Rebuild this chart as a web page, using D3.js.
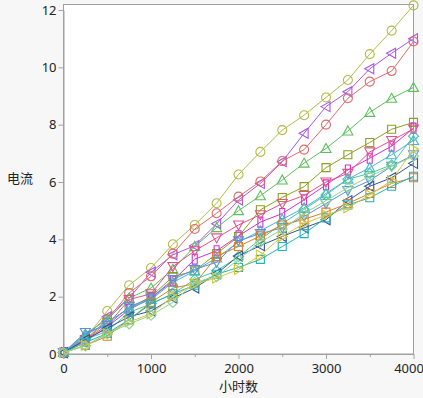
<!DOCTYPE html>
<html><head><meta charset="utf-8">
<script src="https://cdn.jsdelivr.net/npm/d3@7"></script>
<style>
body{margin:0;background:#f7f7f7;}
svg{display:block;font-family:"Noto Sans CJK SC","Open Sans",sans-serif;}
</style></head><body>
<svg id="c" width="423" height="398"></svg>
<script>
const hours = [0,250,500,750,1000,1250,1500,1750,2000,2250,2500,2750,3000,3250,3500,3750,4000];
const xTicks = [0,1000,2000,3000,4000];
const xMinorTicks = [500,1500,2500,3500];
const yTicks = [0,2,4,6,8,10,12];
const xTitle = "小时数";
const yTitle = "电流";

const seriesNames = ["A","B","C","D","E","F","G","H","I","J","K","L","M","N","O"];
const seriesColors = ["#b3ba48","#a855e8","#e06a6a","#5bbf5b","#8e9e1e","#cc33cc","#e8508a","#45b5cf","#5a8ee0","#4cc4a8","#2f5591","#d8802a","#20b3b8","#d6c33e","#8ed48e"];
const seriesMarkers = ["circle","triLeft","circle","triUp","square","rect","triDown","triUp","triDown","diamond","triLeft","square","square","triRight","diamond"];
const sA = [0.05,0.55,1.5,2.4,3.0,3.83,4.5,5.26,6.26,7.05,7.81,8.33,8.95,9.56,10.46,11.28,12.16];
const sB = [0.05,0.6,1.3,1.95,2.85,3.46,3.78,4.54,5.37,5.95,6.71,7.7,8.63,9.15,9.95,10.49,11.0];
const sC = [0.05,0.5,1.2,2.13,2.71,3.5,4.36,4.91,5.49,6.02,6.73,7.13,8.0,8.92,9.5,9.87,10.9];
const sD = [0.05,0.7,1.2,1.95,2.3,2.96,3.75,4.41,5.0,5.52,6.07,6.66,7.17,7.78,8.43,8.92,9.3];
const sE = [0.05,0.5,1.1,1.6,2.0,2.7,2.9,3.5,4.1,5.03,5.46,5.84,6.5,6.95,7.38,7.84,8.08];
const sF = [0.05,0.45,0.95,1.55,1.95,2.55,3.31,3.6,4.12,4.6,4.9,5.38,5.9,6.42,6.83,7.25,7.88];
const sG = [0.05,0.5,1.0,1.9,2.1,3.05,3.6,4.05,4.5,4.86,5.25,5.53,6.0,6.3,7.05,7.45,7.85];
const sH = [0.05,0.65,1.1,1.6,1.9,2.5,2.9,3.35,3.9,4.3,4.7,5.1,5.6,6.1,6.5,6.95,7.45];
const sI = [0.05,0.75,1.0,1.65,1.95,2.6,2.95,3.2,3.95,4.2,4.4,4.8,5.25,5.7,6.05,6.55,6.95];
const sJ = [0.05,0.5,0.8,1.45,1.75,2.1,2.6,2.9,3.4,4.0,4.55,5.05,5.55,6.1,6.3,6.6,7.6];
const sK = [0.05,0.5,0.9,1.3,1.5,1.95,2.3,2.8,3.42,3.78,4.1,4.4,4.68,5.35,5.85,6.15,6.65];
const sL = [0.05,0.3,0.62,1.2,1.8,2.3,2.45,3.4,3.75,4.12,4.5,4.7,4.95,5.25,5.6,5.95,6.15];
const sM = [0.05,0.4,0.72,1.2,1.75,2.1,2.4,2.78,3.02,3.3,3.75,4.2,4.75,5.2,5.45,5.85,6.2];
const sN = [0.05,0.3,0.7,1.12,1.4,2.0,2.45,2.65,2.95,3.45,4.1,4.55,4.85,5.1,5.55,6.05,7.15];
const sO = [0.05,0.28,0.7,1.05,1.35,1.8,2.5,2.7,3.3,3.9,4.35,4.9,5.35,5.8,6.2,6.55,6.9];
const seriesValues = [sA,sB,sC,sD,sE,sF,sG,sH,sI,sJ,sK,sL,sM,sN,sO];

const svg = d3.select("#c");
const L = 63.5, R = 413.5, T = 4.5, B = 354;
const x = d3.scaleLinear().domain([0,4000]).range([L,R]);
const y = d3.scaleLinear().domain([0,12]).range([B,10]);

svg.append("rect").attr("x",L).attr("y",T).attr("width",R-L).attr("height",B-T).attr("fill","#fff");

const xAxis = svg.append("g").attr("transform",`translate(0,${B})`)
  .call(d3.axisBottom(x).tickValues(xTicks).tickFormat(d3.format("d")).tickSize(5).tickSizeOuter(0));
svg.append("g").attr("transform",`translate(0,${B})`)
  .call(d3.axisBottom(x).tickValues(xMinorTicks).tickFormat("").tickSize(3).tickSizeOuter(0))
  .call(g=>g.select(".domain").remove());
const yAxis = svg.append("g").attr("transform",`translate(${L},0)`)
  .call(d3.axisLeft(y).tickValues(yTicks).tickFormat(d3.format("d")).tickSize(5).tickSizeOuter(0));
svg.selectAll(".tick line").attr("stroke","#a0a0a0");
svg.selectAll(".domain").attr("stroke","#a0a0a0");
svg.selectAll(".tick text").attr("fill","#222").style("font-size","13px").style("font-family","'Noto Sans','Open Sans',sans-serif");
xAxis.selectAll(".tick text").attr("dy","0.85em");
xAxis.selectAll(".tick text").filter(d=>d===4000).attr("dx",-5);
yAxis.selectAll(".tick text").attr("x",-7);

svg.append("rect").attr("x",L).attr("y",T).attr("width",R-L).attr("height",B-T)
  .attr("fill","none").attr("stroke","#a0a0a0").attr("stroke-width",1);

svg.append("text").attr("x",(L+R)/2).attr("y",391).attr("text-anchor","middle")
  .style("font-size","13px").attr("fill","#222").text(xTitle);
svg.append("text").attr("x",20).attr("y",183).attr("text-anchor","middle")
  .style("font-size","13px").attr("fill","#222").text(yTitle);

const line = d3.line().x((d,i)=>x(hours[i])).y(d=>y(d));
const g = svg.append("g");
function markerPath(type){
  const s=4.5;
  switch(type){
    case "circle": return `M${-s},0A${s},${s} 0 1,0 ${s},0A${s},${s} 0 1,0 ${-s},0Z`;
    case "square": return `M-4,-4H4V4H-4Z`;
    case "rect": return `M-2.5,-5H2.5V5H-2.5Z`;
    case "triUp": return `M0,-5L5,4L-5,4Z`;
    case "triDown": return `M0,5L5,-4L-5,-4Z`;
    case "triLeft": return `M-5,0L4,-5L4,5Z`;
    case "triRight": return `M5,0L-4,-5L-4,5Z`;
    case "diamond": return `M0,-5L5,0L0,5L-5,0Z`;
  }
}
seriesValues.forEach((vals,k)=>{
  const col = seriesColors[k];
  g.append("path").datum(vals).attr("d",line).attr("fill","none").attr("stroke",col).attr("stroke-width",1);
  g.selectAll(null).data(vals).enter().append("path")
    .attr("transform",(d,i)=>`translate(${x(hours[i])},${y(d)})`)
    .attr("d",markerPath(seriesMarkers[k]))
    .attr("fill","none").attr("stroke",col).attr("stroke-width",1.1);
});
</script></body></html>
